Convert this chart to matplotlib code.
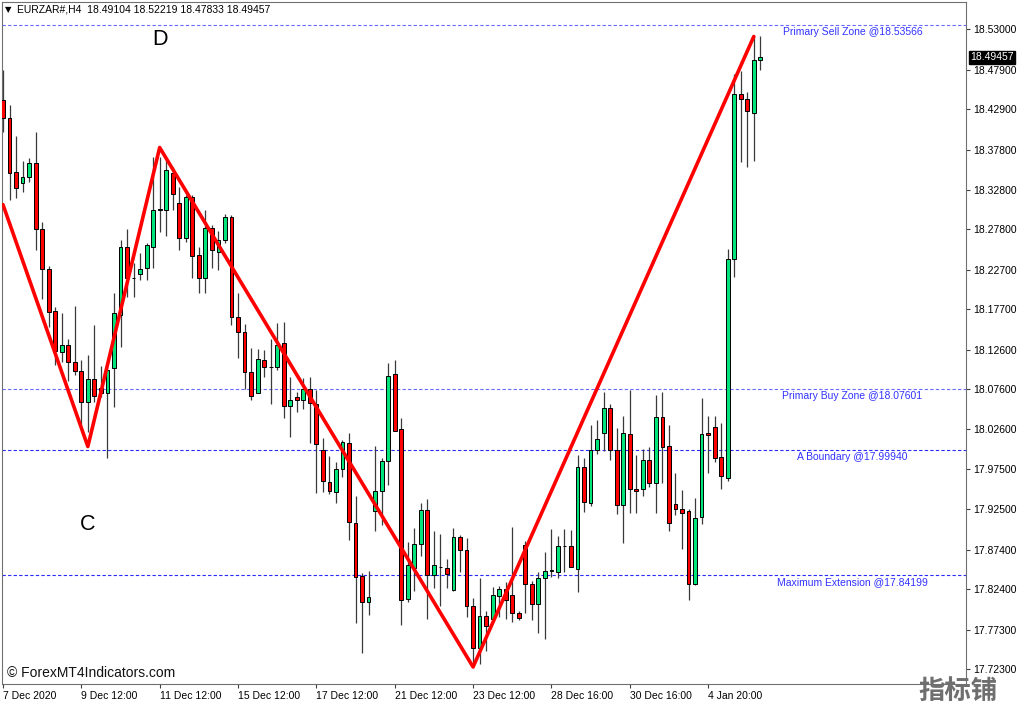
# EURZAR H4 chart with zigzag and level lines
import matplotlib.pyplot as plt
from matplotlib.patches import Rectangle

plt.rcParams["font.family"] = ["Liberation Sans", "DejaVu Sans"]

# candle data, one entry per H4 bar
opens = [18.441, 18.418, 18.350, 18.336, 18.344, 18.362, 18.278, 18.228, 18.175, 18.123,
         18.132, 18.110, 18.099, 18.060, 18.089, 18.078, 18.072, 18.103, 18.170, 18.255,
         18.216, 18.222, 18.229, 18.256, 18.302, 18.302, 18.349, 18.311, 18.267, 18.318,
         18.245, 18.216, 18.280, 18.249, 18.265, 18.293, 18.167, 18.149, 18.098, 18.072,
         18.113, 18.104, 18.104, 18.134, 18.055, 18.066, 18.063, 18.076, 18.058, 18.000,
         17.959, 17.947, 17.975, 18.009, 17.908, 17.841, 17.808, 17.923, 17.948, 17.986,
         18.096, 18.026, 17.812, 17.851, 17.881, 17.924, 17.842, 17.852, 17.851, 17.823,
         17.890, 17.873, 17.803, 17.750, 17.790, 17.786, 17.815, 17.824, 17.817, 17.794,
         17.880, 17.831, 17.805, 17.838, 17.847, 17.846, 17.879, 17.879, 17.850, 17.978,
         17.933, 18.000, 18.021, 18.052, 18.000, 17.930, 18.020, 17.950, 17.951, 17.987,
         17.958, 18.041, 18.004, 17.932, 17.925, 17.923, 17.831, 17.915, 18.021, 18.029,
         17.991, 17.964, 18.240, 18.449, 18.442, 18.424, 18.49104]
highs = [18.479, 18.435, 18.396, 18.364, 18.368, 18.401, 18.287, 18.231, 18.180, 18.172,
         18.140, 18.181, 18.113, 18.119, 18.157, 18.105, 18.105, 18.197, 18.264, 18.278,
         18.235, 18.248, 18.261, 18.369, 18.369, 18.368, 18.356, 18.331, 18.321, 18.321,
         18.256, 18.302, 18.283, 18.276, 18.297, 18.296, 18.198, 18.159, 18.128, 18.127,
         18.126, 18.140, 18.160, 18.161, 18.092, 18.073, 18.090, 18.092, 18.075, 18.015,
         17.992, 17.984, 18.012, 18.021, 17.941, 17.845, 17.847, 18.005, 17.990, 18.109,
         18.113, 18.040, 17.883, 17.901, 17.933, 17.938, 17.897, 17.894, 17.862, 17.901,
         17.892, 17.888, 17.813, 17.838, 17.796, 17.827, 17.828, 17.833, 17.902, 17.796,
         17.885, 17.834, 17.846, 17.871, 17.900, 17.891, 17.900, 17.899, 17.993, 17.990,
         18.031, 18.037, 18.073, 18.058, 18.027, 18.042, 18.075, 17.993, 18.001, 18.003,
         18.069, 18.073, 18.031, 17.971, 17.949, 17.925, 17.939, 18.065, 18.042, 18.042,
         18.034, 18.253, 18.474, 18.478, 18.451, 18.522, 18.52219]
lows = [18.401, 18.315, 18.317, 18.325, 18.338, 18.252, 18.190, 18.155, 18.107, 18.111,
        18.087, 18.094, 18.031, 18.022, 18.060, 18.067, 17.989, 18.054, 18.129, 18.192,
        18.192, 18.214, 18.214, 18.229, 18.275, 18.269, 18.302, 18.252, 18.262, 18.216,
        18.197, 18.197, 18.229, 18.227, 18.261, 18.157, 18.115, 18.077, 18.062, 18.071,
        18.091, 18.058, 18.101, 18.040, 18.016, 18.048, 18.051, 18.009, 17.945, 17.947,
        17.944, 17.933, 17.966, 17.886, 17.782, 17.743, 17.792, 17.897, 17.905, 17.955,
        18.024, 17.779, 17.808, 17.822, 17.866, 17.787, 17.826, 17.803, 17.825, 17.822,
        17.846, 17.789, 17.726, 17.730, 17.746, 17.785, 17.789, 17.786, 17.783, 17.785,
        17.794, 17.785, 17.769, 17.761, 17.839, 17.838, 17.846, 17.852, 17.820, 17.922,
        17.929, 17.994, 17.998, 17.987, 17.919, 17.882, 17.920, 17.920, 17.942, 17.953,
        17.920, 17.958, 17.897, 17.918, 17.875, 17.810, 17.829, 17.906, 17.971, 17.984,
        17.950, 17.961, 18.218, 18.363, 18.357, 18.364, 18.47833]
closes = [18.418, 18.349, 18.330, 18.344, 18.362, 18.278, 18.228, 18.174, 18.124, 18.132,
          18.110, 18.099, 18.060, 18.089, 18.068, 18.071, 18.101, 18.172, 18.255, 18.216,
          18.216, 18.228, 18.258, 18.302, 18.303, 18.353, 18.323, 18.267, 18.318, 18.244,
          18.216, 18.280, 18.252, 18.265, 18.293, 18.167, 18.149, 18.098, 18.068, 18.114,
          18.104, 18.104, 18.132, 18.055, 18.062, 18.062, 18.076, 18.059, 18.007, 17.960,
          17.948, 17.975, 18.010, 17.909, 17.840, 17.808, 17.814, 17.948, 17.986, 18.093,
          18.024, 17.811, 17.854, 17.881, 17.924, 17.842, 17.854, 17.852, 17.843, 17.890,
          17.873, 17.803, 17.750, 17.790, 17.778, 17.817, 17.824, 17.810, 17.794, 17.788,
          17.831, 17.805, 17.838, 17.847, 17.848, 17.879, 17.879, 17.852, 17.978, 17.934,
          18.000, 18.014, 18.052, 17.999, 17.930, 18.021, 17.950, 17.948, 17.987, 17.958,
          18.041, 18.003, 17.907, 17.925, 17.920, 17.831, 17.914, 18.020, 18.018, 17.989,
          17.967, 18.240, 18.449, 18.442, 18.427, 18.491, 18.49457]

# zigzag turning points (bar index, price)
zz_bars = [0, 13, 24, 72, 115]
zz_prices = [18.309, 18.004, 18.381, 17.726, 18.521]

level_names = ["Primary Sell Zone", "Primary Buy Zone", "A Boundary", "Maximum Extension"]
level_values = [18.53566, 18.07601, 17.99940, 17.84199]

price_ticks = [18.53000, 18.47900, 18.42900, 18.37800, 18.32800, 18.27800, 18.22700,
               18.17700, 18.12600, 18.07600, 18.02600, 17.97500, 17.92500, 17.87400,
               17.82400, 17.77300, 17.72300]
time_ticks = [0, 12, 24, 36, 48, 60, 72, 84, 96, 108]
time_labels = ["7 Dec 2020", "9 Dec 12:00", "11 Dec 12:00", "15 Dec 12:00", "17 Dec 12:00",
               "21 Dec 12:00", "23 Dec 12:00", "28 Dec 16:00", "30 Dec 16:00", "4 Jan 20:00"]

bull = "#00e47a"
bear = "#ff0000"

fig = plt.figure(figsize=(10.24, 7.04), dpi=100)
ax = fig.add_axes([2 / 1024, 1 - 684 / 704, 964 / 1024, 682 / 704])

for i in range(len(opens)):
    o, h, l, c = opens[i], highs[i], lows[i], closes[i]
    ax.vlines(i, l, h, color="#3a3a3a", lw=0.9, zorder=2)
    face = bull if c >= o else bear
    ax.add_patch(Rectangle((i - 0.29, min(o, c)), 0.58, abs(c - o),
                           facecolor=face, edgecolor="black", lw=0.7, zorder=3))

ax.plot(zz_bars, zz_prices, color="#ff0000", lw=2.6, zorder=4, solid_capstyle="round")

for k, (name, val) in enumerate(zip(level_names, level_values)):
    col = "#6a6aff" if k < 2 else "#2a2aff"
    ax.axhline(val, color=col, lw=0.8, ls=(0, (3, 2)), zorder=1)
    ax.annotate(f"{name} @{val:.5f}", xy=(0.8823, val), xycoords=("axes fraction", "data"),
                xytext=(0, -1.5), textcoords="offset points", ha="center", va="top",
                fontsize=7.5, color="#3232ff")

ax.text(24, 18.510, "D", fontsize=15.5, ha="center", va="baseline", color="black")
ax.text(13, 17.899, "C", fontsize=15.5, ha="center", va="baseline", color="black")

# current price tag
ax.annotate("18.49457", xy=(1.0, 18.49457), xycoords=("axes fraction", "data"),
            xytext=(3, 0), textcoords="offset points", ha="left", va="center",
            color="white", fontsize=7.5,
            bbox=dict(boxstyle="square,pad=0.15", fc="black", ec="black"))

ax.set_xlim(-0.15, 147.5)
ax.set_ylim(17.7045, 18.5645)

ax.yaxis.tick_right()
ax.set_yticks(price_ticks)
ax.set_yticklabels([f"{v:.5f}" for v in price_ticks])
ax.set_xticks(time_ticks)
ax.set_xticklabels(time_labels, ha="left")
ax.tick_params(axis="both", direction="out", length=3, width=0.8, labelsize=7.5,
               color="#404040", pad=2)

for sp in ax.spines.values():
    sp.set_color("#707070")
    sp.set_linewidth(0.8)

fig.text(5 / 1024, 1 - 10 / 704, "\u25bc", fontsize=6, family="DejaVu Sans", va="center")
fig.text(17 / 1024, 1 - 10 / 704, "EURZAR#,H4  18.49104 18.52219 18.47833 18.49457",
         fontsize=7.5, va="center", ha="left")
fig.text(7 / 1024, 1 - 673 / 704, "\u00a9 ForexMT4Indicators.com", fontsize=10,
         va="center", ha="left", color="#111111")
fig.text(958 / 1024, 1 - 691 / 704, "指标铺", fontsize=19, fontweight="bold",
         family=["Noto Sans CJK SC", "DejaVu Sans"], color="#6f6f6f", ha="center", va="center")

fig.savefig("out.png", dpi=100)
